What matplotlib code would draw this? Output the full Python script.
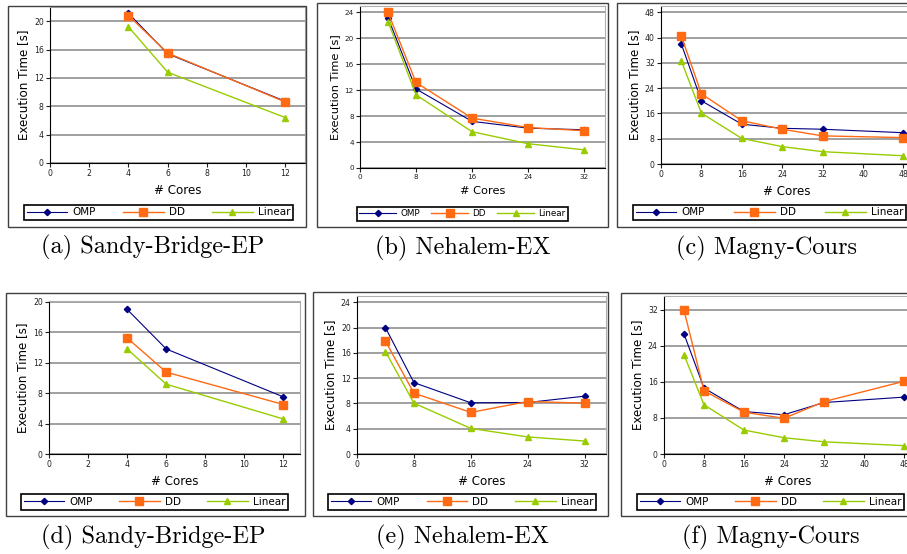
import matplotlib
matplotlib.use("Agg")
import matplotlib.pyplot as plt
from matplotlib.patches import Rectangle

# core counts per machine
cores_sb = [4, 6, 12]
cores_nh = [4, 8, 16, 24, 32]
cores_mc = [4, 8, 16, 24, 32, 48]

# top row (a)-(c)
omp_a = [21.1, 15.4, 8.7]
dd_a = [20.8, 15.5, 8.6]
lin_a = [19.2, 12.8, 6.4]

omp_b = [23.2, 12.2, 7.2, 6.15, 5.9]
dd_b = [24.0, 13.2, 7.7, 6.25, 5.75]
lin_b = [22.6, 11.3, 5.6, 3.75, 2.8]

omp_c = [38.1, 20.0, 12.6, 11.3, 11.0, 9.9]
dd_c = [40.6, 22.2, 13.7, 11.0, 8.9, 8.35]
lin_c = [32.7, 16.1, 8.1, 5.5, 3.9, 2.6]

# bottom row (d)-(f)
omp_d = [19.0, 13.8, 7.5]
dd_d = [15.25, 10.75, 6.5]
lin_d = [13.8, 9.17, 4.6]

omp_e = [20.0, 11.3, 8.1, 8.15, 9.15]
dd_e = [17.85, 9.63, 6.58, 8.3, 8.05]
lin_e = [16.2, 8.05, 4.05, 2.7, 2.05]

omp_f = [26.6, 14.6, 9.4, 8.7, 11.4, 12.6]
dd_f = [31.85, 14.0, 9.26, 7.9, 11.6, 16.1]
lin_f = [22.0, 10.9, 5.3, 3.6, 2.7, 1.85]

captions = ["(a) Sandy-Bridge-EP", "(b) Nehalem-EX", "(c) Magny-Cours",
            "(d) Sandy-Bridge-EP", "(e) Nehalem-EX", "(f) Magny-Cours"]

W, H = 907, 554
fig = plt.figure(figsize=(W / 100, H / 100), dpi=100)


def fr(l, t, r, b):
    # pixel box -> figure fraction
    return [l / W, 1 - b / H, (r - l) / W, (b - t) / H]


def panel(cores, omp, dd, lin, frame, axbox, legbox, cap_xy, caption,
          xlim, xticks, ylim, yticks, fs=5.6, yfs=8.6, lfs=7.5, hl=3.9):
    f = fr(*frame)
    fig.add_artist(Rectangle(f[:2], f[2], f[3], transform=fig.transFigure,
                             fill=False, edgecolor="#404040", linewidth=1.0))
    ax = fig.add_axes(fr(*axbox))
    ax.plot(cores, omp, color="#000080", lw=0.8, marker="D", ms=3.2, label="OMP")
    ax.plot(cores, dd, color="#ff6a13", lw=1.0, marker="s", ms=5.5, label="DD")
    ax.plot(cores, lin, color="#99cc00", lw=1.0, marker="^", ms=5, label="Linear")
    ax.set_xlim(*xlim)
    ax.set_ylim(*ylim)
    ax.set_xticks(xticks)
    ax.set_yticks(yticks)
    ax.yaxis.grid(True, color="#999999", lw=1.3)
    ax.set_axisbelow(True)
    for s in ["top", "right"]:
        ax.spines[s].set_color("#b0b0b0")
    for s in ["left", "bottom"]:
        ax.spines[s].set_color("black")
    ax.tick_params(labelsize=fs, length=3, width=0.8, pad=1.5, colors="#202020")
    ax.set_xlabel("# Cores", fontsize=yfs, labelpad=4)
    ax.set_ylabel("Execution Time [s]", fontsize=yfs, labelpad=3)
    ax.legend(loc="center", bbox_to_anchor=fr(*legbox), bbox_transform=fig.transFigure,
              mode="expand", ncol=3, fontsize=lfs, fancybox=False, framealpha=1,
              edgecolor="black", borderpad=0.25, handlelength=hl,
              columnspacing=1.5, handletextpad=0.5, borderaxespad=0)
    ax.get_legend().get_frame().set_linewidth(1.2)
    fig.text(cap_xy[0] / W, 1 - cap_xy[1] / H, caption, ha="center", va="center",
             fontsize=17.5, family="cmr10")
    return ax


panel(cores_sb, omp_a, dd_a, lin_a, (8, 6, 306, 227), (50, 7, 305, 163),
      (24, 202, 293, 223), (153, 247), captions[0],
      (0, 13), range(0, 13, 2), (0, 22), range(0, 21, 4))
panel(cores_nh, omp_b, dd_b, lin_b, (317, 3, 608, 227), (360, 6, 605, 168),
      (357, 205, 568, 223), (463, 248), captions[1],
      (0, 35), range(0, 33, 8), (0, 25), range(0, 25, 4), fs=5.2, yfs=8.2, lfs=6.3, hl=4.2)
panel(cores_mc, omp_c, dd_c, lin_c, (617, 3, 912, 227), (661, 6, 912, 164),
      (633, 202, 906, 223), (767, 248), captions[2],
      (0, 49.7), range(0, 49, 8), (0, 50), range(0, 49, 8))
panel(cores_sb, omp_d, dd_d, lin_d, (6, 293, 305, 516), (49, 301, 300, 454),
      (21, 492, 288, 512), (153, 537), captions[3],
      (0, 12.85), range(0, 13, 2), (0, 20.1), range(0, 21, 4))
panel(cores_nh, omp_e, dd_e, lin_e, (313, 292, 608, 516), (357, 296, 606, 454),
      (328, 492, 596, 512), (462, 537), captions[4],
      (0, 35), range(0, 33, 8), (0, 25), range(0, 25, 4))
panel(cores_mc, omp_f, dd_f, lin_f, (621, 293, 912, 516), (664, 296, 912, 454),
      (637, 492, 904, 512), (771, 537), captions[5],
      (0, 49.6), range(0, 49, 8), (0, 35), range(0, 33, 8))

fig.savefig("out.png", dpi=100)
